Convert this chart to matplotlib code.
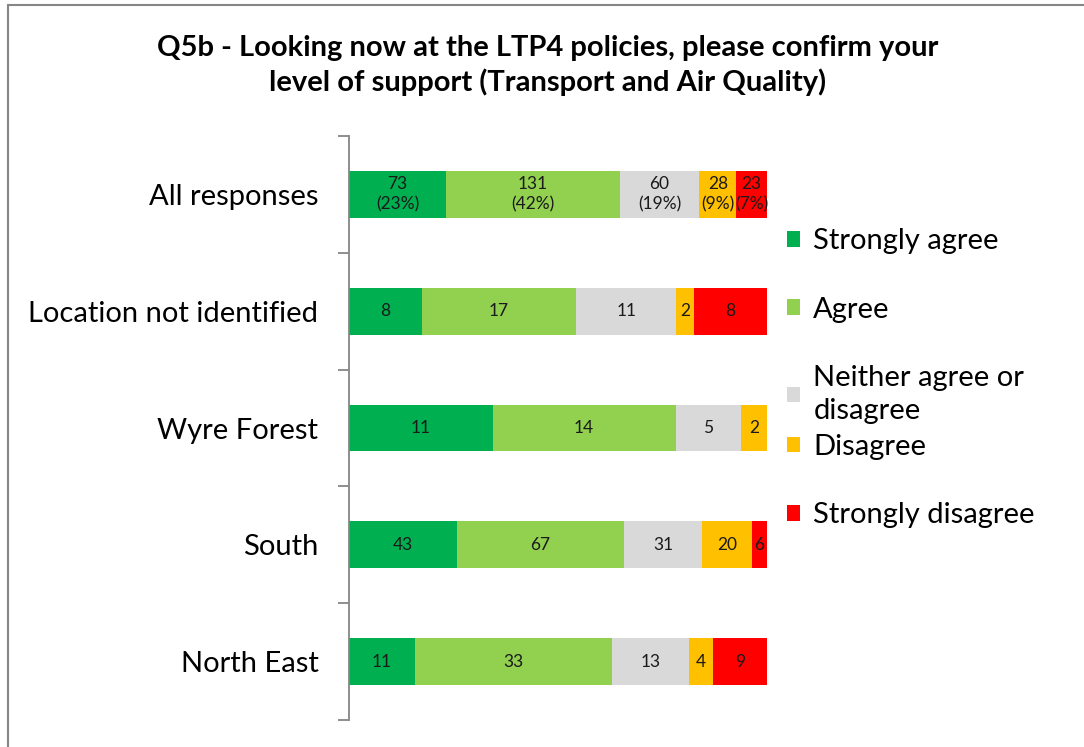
import matplotlib.pyplot as plt
from matplotlib.patches import Rectangle
import numpy as np

plt.rcParams['font.family'] = ['Lato', 'DejaVu Sans']

categories = ['All responses', 'Location not identified', 'Wyre Forest', 'South', 'North East']
responses = ['Strongly agree', 'Agree', 'Neither agree or\ndisagree', 'Disagree', 'Strongly disagree']
colors = ['#00B050', '#92D050', '#D9D9D9', '#FFC000', '#FF0000']

strongly_agree = [73, 8, 11, 43, 11]
agree = [131, 17, 14, 67, 33]
neither = [60, 11, 5, 31, 13]
disagree = [28, 2, 2, 20, 4]
strongly_disagree = [23, 8, 0, 6, 9]

counts = np.array([strongly_agree, agree, neither, disagree, strongly_disagree], dtype=float)
totals = counts.sum(axis=0)
shares = counts / totals

fig = plt.figure(figsize=(10.84, 7.47), dpi=100)
ax = fig.add_axes([349 / 1084, 27 / 747, 418 / 1084, 584 / 747])

y = np.arange(len(categories))
left = np.zeros(len(categories))
bars = []
for i, name in enumerate(responses):
    b = ax.barh(y, shares[i], left=left, height=0.4, color=colors[i], label=name, linewidth=0)
    bars.append(b)
    for j in range(len(categories)):
        if counts[i, j] == 0:
            continue
        txt = f'{int(counts[i, j])}'
        if j == 0:
            txt += f'\n({shares[i, j] * 100:.0f}%)'
        ax.text(left[j] + shares[i, j] / 2, y[j], txt, ha='center', va='center',
                fontsize=12.5, color='#1a1a1a', linespacing=1.35)
    left += shares[i]

ax.set_xlim(0, 1)
ax.set_ylim(len(categories) - 0.5, -0.5)
ax.set_xticks([])
for s in ['top', 'right', 'bottom']:
    ax.spines[s].set_visible(False)
ax.spines['left'].set_color('#868686')
ax.spines['left'].set_linewidth(1.3)

ax.set_yticks(np.arange(-0.5, len(categories)), labels=[])
ax.tick_params(axis='y', which='major', length=8, color='#868686', width=1.3)
ax.set_yticks(y, labels=categories, minor=True)
ax.tick_params(axis='y', which='minor', length=0, pad=22, labelsize=21)

# legend split in two so the wrapped entry does not push the rest down
leg_kw = dict(loc='upper left', frameon=False, fontsize=21, handlelength=0.45,
              handleheight=0.45, handletextpad=0.45, labelspacing=1.45, borderaxespad=0,
              borderpad=0)
leg1 = ax.legend(bars[:3], responses[:3], bbox_to_anchor=(1.048, 0.842), **leg_kw)
leg1.get_texts()[2].set_linespacing(1.35)
ax.add_artist(leg1)
ax.legend(bars[3:], responses[3:], bbox_to_anchor=(1.048, 0.49), **leg_kw)

fig.text(0.505, 0.912, 'Q5b - Looking now at the LTP4 policies, please confirm your\n'
         'level of support (Transport and Air Quality)',
         ha='center', va='center', fontsize=21, fontweight='bold', linespacing=1.35)

fig.patches.append(Rectangle((8 / 1084, -0.1), 1.1, 1.1 - 5 / 747, transform=fig.transFigure,
                             fill=False, edgecolor='#868686', linewidth=1.5))

fig.savefig('out.png', dpi=100)
